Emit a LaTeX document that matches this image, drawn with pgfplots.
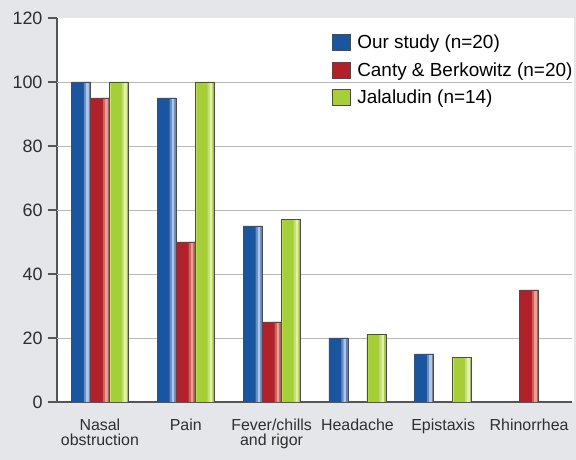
\documentclass[border=0pt]{standalone}
\usepackage{pgfplots}
\usepackage{pgfplotstable}
\pgfplotsset{compat=1.18}
\usepackage{fontspec}
\setmainfont{Liberation Sans}

\definecolor{pagebg}{HTML}{E4E6EA}
\definecolor{gridgray}{HTML}{B8B8B8}
\definecolor{axisgray}{HTML}{555555}
\definecolor{edgegray}{HTML}{4C4C4C}
% bar colours: main tone, highlight, edge tone
\definecolor{bA}{HTML}{1A55A0}
\definecolor{bB}{HTML}{AFC6E8}
\definecolor{bC}{HTML}{6585B8}
\definecolor{rA}{HTML}{B0212A}
\definecolor{rB}{HTML}{EC9E90}
\definecolor{rC}{HTML}{BE5C52}
\definecolor{gA}{HTML}{A6CE36}
\definecolor{gB}{HTML}{E0F1AA}
\definecolor{gC}{HTML}{9EC148}
\colorlet{bM}{bA!50!bB}
\colorlet{rM}{rA!50!rB}
\colorlet{gM}{gA!50!gB}
\colorlet{gL}{gB!60!gA}

% symptom frequencies (%), category index vs. value
\pgfplotstableread{
x y
0 100
1 95
2 55
3 20
4 15
}\ourstudy
\pgfplotstableread{
x y
0 95
1 50
2 25
5 35
}\canty
\pgfplotstableread{
x y
0 100
1 100
2 57
3 21
4 14
}\jalaludin

% a narrow coloured band inside each bar of a series: colour, width, shift, table
\newcommand\stripe[4]{%
  \addplot[forget plot, fill=#1, draw=none, bar width=#2, bar shift=#3] table {#4};}
% outline of a series redrawn on top of its bands
\newcommand\outline[2]{%
  \addplot[forget plot, fill=none, draw=edgegray, line width=0.6bp, bar shift=#1] table {#2};}

\pgfplotsset{
  blueleg/.style={legend image code/.code={
    \fill[fill=bA] (0bp,-8bp) rectangle (18bp,8bp);
    \fill[fill=bM] (11bp,-8bp) rectangle (13bp,8bp);
    \fill[fill=bB] (13bp,-8bp) rectangle (16bp,8bp);
    \fill[fill=bC] (16bp,-8bp) rectangle (18bp,8bp);
    \draw[draw=edgegray, line width=0.6bp] (0bp,-8bp) rectangle (18bp,8bp);}},
  redleg/.style={legend image code/.code={
    \fill[fill=rA] (0bp,-8bp) rectangle (18bp,8bp);
    \fill[fill=rM] (11bp,-8bp) rectangle (13bp,8bp);
    \fill[fill=rB] (13bp,-8bp) rectangle (16bp,8bp);
    \fill[fill=rC] (16bp,-8bp) rectangle (18bp,8bp);
    \draw[draw=edgegray, line width=0.6bp] (0bp,-8bp) rectangle (18bp,8bp);}},
  greenleg/.style={legend image code/.code={
    \fill[fill=gA] (0bp,-8bp) rectangle (18bp,8bp);
    \fill[fill=gL] (0bp,-8bp) rectangle (1.5bp,8bp);
    \fill[fill=gM] (11bp,-8bp) rectangle (13bp,8bp);
    \fill[fill=gB] (13bp,-8bp) rectangle (16bp,8bp);
    \fill[fill=gC] (16bp,-8bp) rectangle (18bp,8bp);
    \draw[draw=edgegray, line width=0.6bp] (0bp,-8bp) rectangle (18bp,8bp);}},
}

\begin{document}
\begin{tikzpicture}
  % page background and white plotting area
  \fill[pagebg] (-57bp,-58bp) rectangle (519bp,402bp);
  \fill[white] (0bp,0bp) rectangle (517bp,384bp);
  \begin{axis}[
    at={(0,0)}, anchor=south west,
    scale only axis,
    width=515bp, height=384bp,
    xmin=-0.5, xmax=5.5,
    ymin=0, ymax=120,
    axis lines*=left,
    axis line style={axisgray, line width=1.3bp},
    tick style={axisgray, line width=1.1bp},
    tick align=outside,
    major tick length=9bp,
    minor tick length=6bp,
    ytick={0,20,...,120},
    yticklabel style={font=\fontsize{18}{20}\selectfont, text=black!82, xshift=-2bp},
    /pgf/number format/assume math mode=true,
    extra y ticks={20,40,60,80,100},
    extra y tick labels={},
    extra y tick style={grid=major, major tick length=0pt},
    grid style={gridgray, line width=0.9bp},
    xtick=\empty,
    minor xtick={-0.5,0.5,...,5.5},
    extra x ticks={0,1,2,3,4,5},
    extra x tick labels={{Nasal\\obstruction},{Pain},{Fever/chills\\and rigor},{Headache},{Epistaxis},{Rhinorrhea}},
    extra x tick style={major tick length=0pt,
      xticklabel style={font=\fontsize{16}{15.5}\selectfont, align=center, anchor=north, yshift=-13bp, text=black!82}},
    ybar=0pt,
    bar width=19bp,
    legend style={at={(0.533,0.962)}, anchor=north west, draw=none, fill=none,
      inner sep=0pt, row sep=8.5bp,
      font=\fontsize{19}{20}\selectfont,
      cells={anchor=west},
      /tikz/every odd column/.append style={column sep=5bp}},
  ]
    % Our study
    \addplot[fill=bA, draw=edgegray, line width=0.6bp, bar shift=-19bp, blueleg]
      table {\ourstudy};
    \stripe{bM}{2bp}{-15bp}{\ourstudy}
    \stripe{bB}{3bp}{-12.5bp}{\ourstudy}
    \stripe{bC}{1.5bp}{-10.25bp}{\ourstudy}
    \outline{-19bp}{\ourstudy}
    % Canty & Berkowitz
    \addplot[fill=rA, draw=edgegray, line width=0.6bp, bar shift=0bp, redleg]
      table {\canty};
    \stripe{rM}{2bp}{4bp}{\canty}
    \stripe{rB}{3bp}{6.5bp}{\canty}
    \stripe{rC}{1.5bp}{8.75bp}{\canty}
    \outline{0bp}{\canty}
    % Jalaludin
    \addplot[fill=gA, draw=edgegray, line width=0.6bp, bar shift=19bp, greenleg]
      table {\jalaludin};
    \stripe{gL}{1.5bp}{10.25bp}{\jalaludin}
    \stripe{gM}{2bp}{23bp}{\jalaludin}
    \stripe{gB}{3bp}{25.5bp}{\jalaludin}
    \stripe{gC}{1.5bp}{27.75bp}{\jalaludin}
    \outline{19bp}{\jalaludin}
    \legend{Our study (n=20), Canty \& Berkowitz (n=20), Jalaludin (n=14)}
  \end{axis}
  \pgfresetboundingbox
  \path[use as bounding box] (-57bp,-58bp) rectangle (519bp,402bp);
\end{tikzpicture}
\end{document}
